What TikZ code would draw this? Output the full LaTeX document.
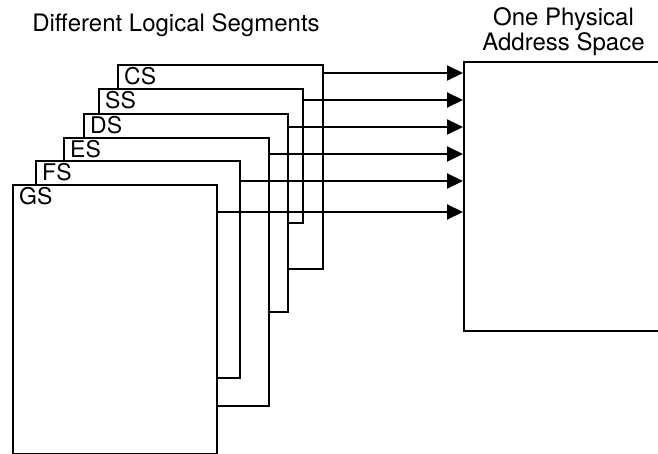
\documentclass[tikz,border=0pt]{standalone}
\usepackage{fontspec}
\setmainfont{TeX Gyre Heros}
\usetikzlibrary{arrows.meta,positioning}

\begin{document}
\begin{tikzpicture}[x=1pt,y=-1pt,
  segbox/.style={draw,line width=2pt,fill=white,anchor=north west,inner sep=0pt},
  seglabel/.style={anchor=base west,inner sep=0pt,font=\fontsize{23}{25}\selectfont},
  headline/.style={inner sep=0pt,align=center,font=\fontsize{24}{25}\selectfont},
  segarrow/.style={line width=2pt,-{Triangle[length=16pt,width=15pt]}}]
\useasboundingbox (0,0) rectangle (658,453);
\clip (0,0) rectangle (658,453);

\node[headline,anchor=base] (logical) at (176,31) {Different Logical Segments};
\node[segbox,minimum width=199pt,minimum height=269pt] (phys) at (463,61) {};
\node[headline,above=5pt of phys.north] (physical) {One Physical\\Address Space};

% segments, back one first
\foreach \n/\l/\t/\r/\b/\a in {CS/117/64/322/268/73,SS/98/88/302/222/100,DS/83/113/287/311/127,ES/63/137/268/405/154,FS/35/160/239/377/181,GS/12/184/216/453/212}{
  \node[segbox,minimum width={(\r-\l)*1pt},minimum height={(\b-\t)*1pt}] (\n) at (\l,\t) {};
  \node[seglabel] (\n-lbl) at ([xshift=7pt,yshift=-20pt]\n.north west) {\n};
  \coordinate (\n-tap) at (\r,\a);
}
% links to the physical space
\foreach \n in {CS,SS,DS,ES,FS,GS}
  \draw[segarrow] (\n-tap) -- (\n-tap -| phys.west);
\end{tikzpicture}
\end{document}
